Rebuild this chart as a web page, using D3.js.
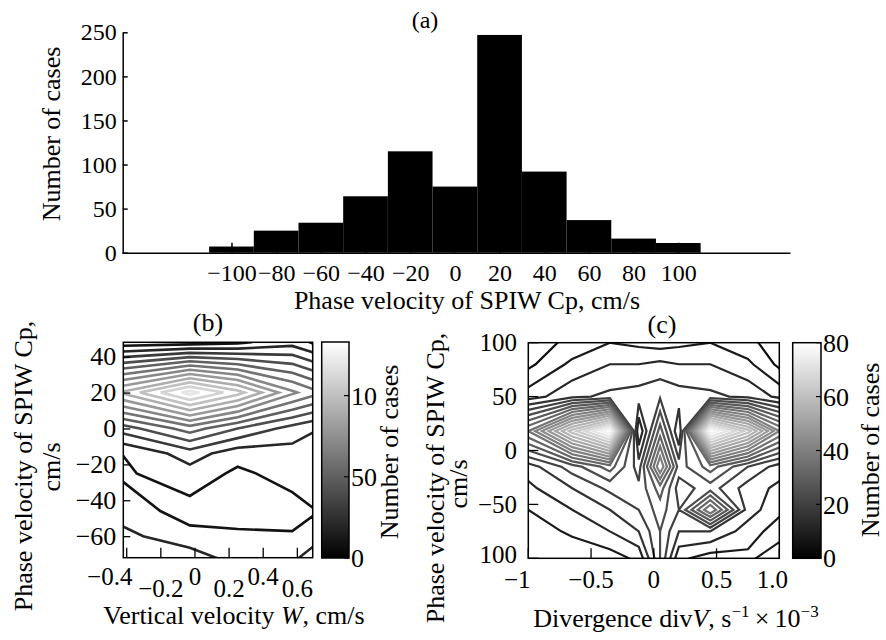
<!DOCTYPE html>
<html><head><meta charset="utf-8">
<script src="https://cdn.jsdelivr.net/npm/d3@7"></script>
<style>
body{margin:0;background:#fff}
svg text{font-family:"Liberation Serif","Times New Roman",serif;fill:#000}
</style></head><body>
<svg id="chart" width="886" height="640"></svg>
<script>
// ---------- Panel (a): histogram ----------
const histCenters = [-100,-80,-60,-40,-20,0,20,40,60,80,100];
const histCounts  = [7,25,34,64,115,75,247,92,37,16,11];
const histYTicks  = [0,50,100,150,200,250];
const histXTicks  = [-100,-80,-60,-40,-20,0,20,40,60,80,100];
const histBinWidth = 20;

// ---------- Panel (b): Cp vs W ----------
const bW  = [-0.42,-0.03,0.25,0.57,0.69];
const bCp = [48,20,0,-14,-25,-46,-60,-72];           // rows, top -> bottom
const bRow48  = [0.4, 0.5, 0.8, 1.6, 0.9];
const bRow20  = [9.2,12.4,10.4, 7.2, 6.4];
const bRow0   = [3.5, 5.5, 4.0, 2.6, 2.1];
const bRowM14 = [1.02,2.5, 1.4, 1.6, 1.5];
const bRowM25 = [0.85,1.6, 0.8, 1.4, 1.5];
const bRowM46 = [1.5, 0.6, 0.5, 0.6, 0.95];
const bRowM60 = [2.3, 1.3, 1.2, 1.1, 1.2];
const bRowM72 = [2.6, 2.6, 1.5, 1.6, 2.8];
const bLevels = [1,2,3,4,5,6,7,8,9,10,11,12];
const bXTicks = [-0.4,-0.2,0,0.2,0.4,0.6];
const bXTickLabels = ["\u22120.4","\u22120.2","0","0.2","0.4","0.6"];
const bYTicks = [40,20,0,-20,-40,-60];
const bBarTicks = [0,5,10];
const bBarTickLabels = ["0","50","10"];
const bBarMax = 13.3;

// ---------- Panel (c): Cp vs divV ----------
const cDiv = [-1,-0.65,-0.35,-0.12,0.05,0.2,0.45,0.75,1];
const cCp  = [100,80,50,18,-15,-35,-55,-75,-100];  // rows, top -> bottom
const cRow100  = [ 2,  5,  8,  7,  6,  7,  8,  5,  2];
const cRow80   = [ 3,  9, 12, 12, 13, 12, 12,  9,  3];
const cRow50   = [10, 15, 17, 18, 19.5,18, 17, 15, 11];
const cRow18   = [36, 62, 80,  8, 30, 12, 80, 62, 40];
const cRowM15  = [14, 22, 30, 18, 44, 22, 30, 20, 14];
const cRowM35  = [11, 16, 21, 21, 30, 18, 22, 14, 11];
const cRowM55  = [ 8, 12, 16, 20, 26, 20, 40, 14,  9];
const cRowM75  = [ 5,  9, 12, 16, 24, 16, 16, 10,  6];
const cRowM100 = [ 6,  4,  6,  9, 24,  9,  6,  7, 11];
const cLevels = [4,8,12,16,20,24,28,32,36,40,44,48,52,56,60,64,68,72,76];
const cXTicks = [-1,-0.5,0,0.5,1];
const cXTickLabels = ["\u22121","\u22120.5","0","0.5","1.0"];
const cYTicks = [100,50,0,-50,-100];
const cYTickLabels = ["100","50","0","\u221250","100"];
const cBarTicks = [0,20,40,60,80];
const cBarMax = 80;

const svg = d3.select("#chart");
const FONT = '"Liberation Serif","Times New Roman",serif';

// ===== (a) =====
const xA = d3.scaleLinear([-149,150],[122,790]);
const yA = d3.scaleLinear([0,250],[252.7,32.3]);
svg.append("g").selectAll("rect").data(histCounts).join("rect")
  .attr("x",(d,i)=>xA(histCenters[i]-histBinWidth/2))
  .attr("width",(d,i)=>xA(histCenters[i]+histBinWidth/2)-xA(histCenters[i]-histBinWidth/2))
  .attr("y",d=>yA(d)).attr("height",d=>yA(0)-yA(d)).attr("fill","#000");
const axA_x = svg.append("g").attr("transform",`translate(0,${yA(0)})`)
  .call(d3.axisBottom(xA).tickValues(histXTicks).tickSizeInner(-10).tickSizeOuter(0).tickPadding(11));
const axA_y = svg.append("g").attr("transform",`translate(${xA(-149)+0.7},0)`)
  .call(d3.axisLeft(yA).tickValues(histYTicks).tickSizeInner(-5).tickSizeOuter(0).tickPadding(6));
[axA_x,axA_y].forEach(g=>{
  g.attr("font-size",24).attr("font-family",FONT);
  g.selectAll("path,line").attr("stroke","#000").attr("stroke-width",1.5);
});
svg.append("text").attr("x",425).attr("y",28).attr("text-anchor","middle").attr("font-size",24).text("(a)");
svg.append("text").attr("transform","translate(60,134) rotate(-90)").attr("text-anchor","middle").attr("font-size",26).text("Number of cases");
svg.append("text").attr("x",467).attr("y",309).attr("text-anchor","middle").attr("font-size",26).text("Phase velocity of SPIW Cp, cm/s");

// ===== helpers for contour panels =====
const defs = svg.append("defs");
function grad(id){
  const g = defs.append("linearGradient").attr("id",id).attr("x1",0).attr("y1",1).attr("x2",0).attr("y2",0);
  g.append("stop").attr("offset",0).attr("stop-color","#000");
  g.append("stop").attr("offset",1).attr("stop-color","#fff");
}
grad("gB"); grad("gC");

function contourPanel(opt){
  const {xs, ys, rows, levels, xScale, yScale, max, id, width} = opt;
  const nx = xs.length, ny = ys.length;
  const values = rows.flat();
  const ix = d3.scaleLinear(d3.range(nx), xs);
  const iy = d3.scaleLinear(d3.range(ny), ys);
  const proj = d3.geoTransform({point(x,y){ this.stream.point(xScale(ix(x-0.5)), yScale(iy(y-0.5))); }});
  const path = d3.geoPath(proj);
  const [x0,x1] = xScale.range(), [y0,y1] = yScale.range();
  defs.append("clipPath").attr("id",id).append("rect")
    .attr("x",x0).attr("y",y1).attr("width",x1-x0).attr("height",y0-y1);
  const gray = d3.scaleLinear([0,max],["#000","#fff"]);
  const cs = d3.contours().size([nx,ny]).thresholds(levels)(values);
  svg.append("g").attr("clip-path",`url(#${id})`)
    .selectAll("path").data(cs).join("path")
    .attr("d",path).attr("fill","none")
    .attr("stroke",d=>gray(d.value)).attr("stroke-width",width).attr("stroke-linejoin","miter");
  svg.append("rect").attr("x",x0).attr("y",y1).attr("width",x1-x0).attr("height",y0-y1)
    .attr("fill","none").attr("stroke","#000").attr("stroke-width",1.5);
}

function colorbar(x,w,scale,ticks,labels,gid,labelX,labelY){
  const [b,t] = scale.range();
  svg.append("rect").attr("x",x).attr("y",t).attr("width",w).attr("height",b-t).attr("fill",`url(#${gid})`).attr("stroke","#000").attr("stroke-width",1.5);
  const g = svg.append("g");
  ticks.forEach((v,i)=>{
    g.append("line").attr("x1",x+w-5).attr("x2",x+w).attr("y1",scale(v)).attr("y2",scale(v)).attr("stroke","#000").attr("stroke-width",1.2);
    g.append("text").attr("x",x+w+2).attr("y",scale(v)).attr("dy","0.35em").attr("font-size",26).text(labels[i]);
  });
  svg.append("text").attr("transform",`translate(${labelX},${labelY}) rotate(-90)`).attr("text-anchor","middle").attr("font-size",26).text("Number of cases");
}

// ===== (b) =====
const xB = d3.scaleLinear([-0.42,0.69],[123.3,312.7]);
const yB = d3.scaleLinear([-72,48],[557.7,342.3]);
contourPanel({xs:bW, ys:bCp, rows:[bRow48,bRow20,bRow0,bRowM14,bRowM25,bRowM46,bRowM60,bRowM72],
  levels:bLevels, xScale:xB, yScale:yB, max:bBarMax, id:"clipB", width:2.6});
const axB_y = svg.append("g").attr("transform",`translate(${xB.range()[0]},0)`)
  .call(d3.axisLeft(yB).tickValues(bYTicks).tickSizeInner(-7).tickSizeOuter(0).tickPadding(7));
axB_y.select(".domain").remove();
axB_y.attr("font-size",26).attr("font-family",FONT);
axB_y.selectAll("line").attr("stroke","#000").attr("stroke-width",1.3);
const gBx = svg.append("g");
bXTicks.forEach((v,i)=>{
  gBx.append("line").attr("x1",xB(v)).attr("x2",xB(v)).attr("y1",557.7).attr("y2",547.7).attr("stroke","#000").attr("stroke-width",1.3);
  gBx.append("text").attr("x",xB(v)+(i===0?-17:0)).attr("y",i%2===0?585:597).attr("text-anchor","middle").attr("font-size",25).text(bXTickLabels[i]);
});
const cbB = d3.scaleLinear([0,bBarMax],[558,342]);
colorbar(321.7,27.3,cbB,bBarTicks,bBarTickLabels,"gB",398,452);
svg.append("text").attr("x",208).attr("y",331).attr("text-anchor","middle").attr("font-size",26).text("(b)");
svg.append("text").attr("transform","translate(32,466) rotate(-90)").attr("text-anchor","middle").attr("font-size",26).text("Phase velocity of SPIW Cp,");
svg.append("text").attr("transform","translate(60,467) rotate(-90)").attr("text-anchor","middle").attr("font-size",26).text("cm/s");
const tB = svg.append("text").attr("x",234).attr("y",624).attr("text-anchor","middle").attr("font-size",26);
tB.append("tspan").text("Vertical velocity ");
tB.append("tspan").attr("font-style","italic").text("W");
tB.append("tspan").text(", cm/s");

// ===== (c) =====
const xC = d3.scaleLinear([-1,1],[528.3,779.3]);
const yC = d3.scaleLinear([-100,100],[558.3,342.7]);
contourPanel({xs:cDiv, ys:cCp, rows:[cRow100,cRow80,cRow50,cRow18,cRowM15,cRowM35,cRowM55,cRowM75,cRowM100],
  levels:cLevels, xScale:xC, yScale:yC, max:cBarMax, id:"clipC", width:2.2});
const gC = svg.append("g");
cYTicks.forEach((v,i)=>{
  gC.append("line").attr("x1",528.3).attr("x2",538.3).attr("y1",yC(v)).attr("y2",yC(v)).attr("stroke","#000").attr("stroke-width",1.3);
  gC.append("text").attr("x",517).attr("y",yC(v)-(i===cYTicks.length-1?4:0)).attr("dy","0.35em").attr("text-anchor","end").attr("font-size",25).text(cYTickLabels[i]);
});
const cDx = [-11,0,0,0,-7];
cXTicks.forEach((v,i)=>{
  gC.append("line").attr("x1",xC(v)).attr("x2",xC(v)).attr("y1",558.3).attr("y2",548.3).attr("stroke","#000").attr("stroke-width",1.3);
  gC.append("text").attr("x",xC(v)+cDx[i]).attr("y",588).attr("text-anchor","middle").attr("font-size",25).text(cXTickLabels[i]);
});
const cbC = d3.scaleLinear([0,cBarMax],[558.3,342.7]);
colorbar(792.7,28.3,cbC,cBarTicks,cBarTicks.map(String),"gC",879,450);
svg.append("text").attr("x",662).attr("y",333).attr("text-anchor","middle").attr("font-size",26).text("(c)");
svg.append("text").attr("transform","translate(444,478) rotate(-90)").attr("text-anchor","middle").attr("font-size",26).text("Phase velocity of SPIW Cp,");
svg.append("text").attr("transform","translate(467,484) rotate(-90)").attr("text-anchor","middle").attr("font-size",26).text("cm/s");
const tC = svg.append("text").attr("x",676).attr("y",627).attr("text-anchor","middle").attr("font-size",26);
tC.append("tspan").text("Divergence div");
tC.append("tspan").attr("font-style","italic").text("V");
tC.append("tspan").text(", s");
tC.append("tspan").attr("font-size",17).attr("dy",-10).text("\u22121");
tC.append("tspan").attr("dy",10).text("\u2009\u00d7\u200910");
tC.append("tspan").attr("font-size",17).attr("dy",-10).text("\u22123");
</script>
</body></html>
